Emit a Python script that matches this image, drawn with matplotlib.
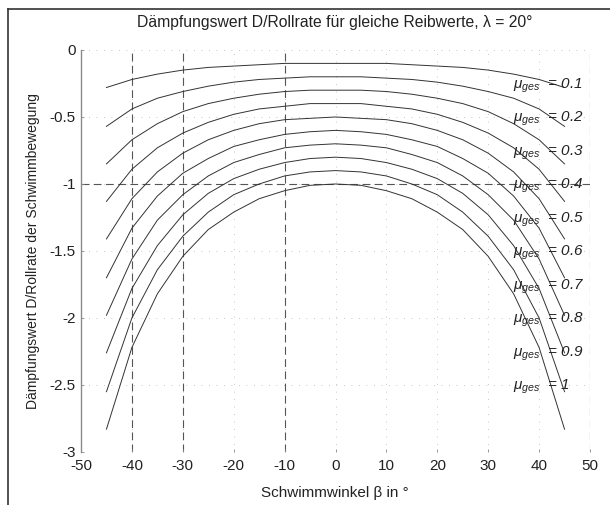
import matplotlib
matplotlib.use("Agg")
import matplotlib.pyplot as plt
from matplotlib.lines import Line2D

plt.rcParams['font.family'] = ['Liberation Sans', 'DejaVu Sans']
plt.rcParams['mathtext.fontset'] = 'custom'
plt.rcParams['mathtext.rm'] = 'Liberation Sans'
plt.rcParams['mathtext.it'] = 'Liberation Sans:italic'

# Schwimmwinkel beta in degrees
beta = [-45, -40, -35, -30, -25, -20, -15, -10, -5, 0,
        5, 10, 15, 20, 25, 30, 35, 40, 45]

# Reibwerte mu_ges
mu_labels = ['0.1', '0.2', '0.3', '0.4', '0.5', '0.6', '0.7', '0.8', '0.9', '1']

# Daempfungswert D/Rollrate per Reibwert
d_01 = [-0.28, -0.22, -0.18, -0.15, -0.13, -0.12, -0.11, -0.10, -0.10, -0.10,
        -0.10, -0.10, -0.11, -0.12, -0.13, -0.15, -0.18, -0.22, -0.28]
d_02 = [-0.57, -0.44, -0.36, -0.31, -0.27, -0.24, -0.22, -0.21, -0.20, -0.20,
        -0.20, -0.21, -0.22, -0.24, -0.27, -0.31, -0.36, -0.44, -0.57]
d_03 = [-0.85, -0.67, -0.55, -0.46, -0.40, -0.36, -0.33, -0.31, -0.30, -0.30,
        -0.30, -0.31, -0.33, -0.36, -0.40, -0.46, -0.55, -0.67, -0.85]
d_04 = [-1.13, -0.89, -0.73, -0.62, -0.54, -0.48, -0.44, -0.42, -0.40, -0.40,
        -0.40, -0.42, -0.44, -0.48, -0.54, -0.62, -0.73, -0.89, -1.13]
d_05 = [-1.41, -1.11, -0.91, -0.77, -0.67, -0.60, -0.55, -0.52, -0.51, -0.50,
        -0.51, -0.52, -0.55, -0.60, -0.67, -0.77, -0.91, -1.11, -1.41]
d_06 = [-1.70, -1.33, -1.09, -0.92, -0.81, -0.72, -0.67, -0.63, -0.61, -0.60,
        -0.61, -0.63, -0.67, -0.72, -0.81, -0.92, -1.09, -1.33, -1.70]
d_07 = [-1.98, -1.56, -1.27, -1.08, -0.94, -0.84, -0.78, -0.73, -0.71, -0.70,
        -0.71, -0.73, -0.78, -0.84, -0.94, -1.08, -1.27, -1.56, -1.98]
d_08 = [-2.26, -1.78, -1.46, -1.23, -1.07, -0.96, -0.89, -0.84, -0.81, -0.80,
        -0.81, -0.84, -0.89, -0.96, -1.07, -1.23, -1.46, -1.78, -2.26]
d_09 = [-2.55, -2.00, -1.64, -1.39, -1.21, -1.08, -1.00, -0.94, -0.91, -0.90,
        -0.91, -0.94, -1.00, -1.08, -1.21, -1.39, -1.64, -2.00, -2.55]
d_10 = [-2.83, -2.22, -1.82, -1.54, -1.34, -1.21, -1.11, -1.05, -1.01, -1.00,
        -1.01, -1.05, -1.11, -1.21, -1.34, -1.54, -1.82, -2.22, -2.83]
curves = [d_01, d_02, d_03, d_04, d_05, d_06, d_07, d_08, d_09, d_10]

# label heights on the right-hand side
label_y = [-0.25, -0.5, -0.75, -1.0, -1.25, -1.5, -1.75, -2.0, -2.25, -2.5]

x_ticks = [-50, -40, -30, -20, -10, 0, 10, 20, 30, 40, 50]
y_ticks = [0, -0.5, -1, -1.5, -2, -2.5, -3]
y_ticklabels = ['0', '-0.5', '-1', '-1.5', '-2', '-2.5', '-3']
dashed_x = [-40, -30, -10, 50]
dashed_y = [-1]

fig = plt.figure(figsize=(6.1, 5.05), dpi=100)
ax = fig.add_axes([0.1328, 0.105, 0.8344, 0.796])

# sparse dotted grid
for xv in x_ticks:
    ax.axvline(xv, color='#b5b5b5', lw=0.6, ls=(0, (1, 8)), zorder=0)
for yv in y_ticks:
    ax.axhline(yv, color='#b5b5b5', lw=0.6, ls=(0, (1, 8)), zorder=0)

# dashed reference lines
for xv in dashed_x:
    ax.axvline(xv, color='#555555', lw=0.8, ls=(0, (7, 4)), zorder=1)
for yv in dashed_y:
    ax.axhline(yv, color='#555555', lw=0.8, ls=(0, (7, 4)), zorder=1)

for d in curves:
    ax.plot(beta, d, color='#333333', lw=0.7, zorder=2)

for lab, yv in zip(mu_labels, label_y):
    ax.text(34.9, yv - 0.035, r'$\mu_{ges}$  = ' + lab, fontsize=11,
            style='italic', ha='left', va='baseline', color='#222222', zorder=3)

ax.set_xlim(-50, 50)
ax.set_ylim(-3, 0)
ax.set_xticks(x_ticks)
ax.set_xticklabels([str(v) for v in x_ticks])
ax.set_yticks(y_ticks)
ax.set_yticklabels(y_ticklabels)
ax.tick_params(direction='in', length=2, width=0.6, color='#888888',
               labelsize=11, labelcolor='#222222', pad=4)
ax.tick_params(axis='x', pad=5)

for s in ['top', 'right', 'bottom']:
    ax.spines[s].set_visible(False)
ax.spines['left'].set_color('#8a8a8a')
ax.spines['left'].set_linewidth(1.0)

fig.text(0.549, 1 - 22 / 505, 'Dämpfungswert D/Rollrate für gleiche Reibwerte, λ = 20°',
         ha='center', va='center', fontsize=11.3, color='#222222')
fig.text(0.549, 1 - 493 / 505, 'Schwimmwinkel β in °',
         ha='center', va='center', fontsize=11, color='#222222')
fig.text(33 / 610, 1 - 251 / 505, 'Dämpfungswert D/Rollrate der Schwimmbewegung',
         ha='center', va='center', rotation=90, fontsize=10, color='#222222')

# outer frame (top and left edges)
fig.add_artist(Line2D([8 / 610, 1.0], [1 - 9 / 505, 1 - 9 / 505],
                      transform=fig.transFigure, color='#333333', lw=1.2))
fig.add_artist(Line2D([8 / 610, 8 / 610], [0.0, 1 - 9 / 505],
                      transform=fig.transFigure, color='#333333', lw=1.2))

fig.savefig('out.png', dpi=100)
